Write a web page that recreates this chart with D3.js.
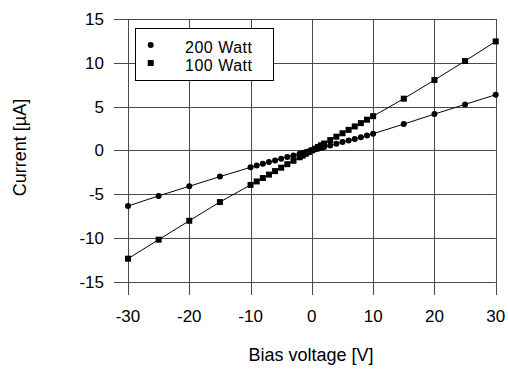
<!DOCTYPE html>
<html><head><meta charset="utf-8">
<script src="https://cdn.jsdelivr.net/npm/d3@7"></script>
<style>body{margin:0;background:#fff}svg{display:block}text{font-family:"Liberation Sans",Arial,sans-serif;fill:#000}</style>
</head><body><svg id="c" width="508" height="369"></svg>
<script>
const voltage = [-30,-25,-20,-15,-10,-9,-8,-7,-6,-5,-4,-3,-2,-1.5,-1,-0.5,0,0.5,1,1.5,2,3,4,5,6,7,8,9,10,15,20,25,30];
const current200W = [-6.36,-5.2,-4.1,-3.0,-1.94,-1.73,-1.53,-1.34,-1.15,-0.96,-0.77,-0.58,-0.39,-0.29,-0.19,-0.1,0.0,0.09,0.19,0.28,0.37,0.56,0.75,0.94,1.12,1.31,1.5,1.69,1.9,3.0,4.14,5.25,6.35];
const current100W = [-12.37,-10.2,-8.04,-5.9,-3.95,-3.55,-3.16,-2.77,-2.37,-1.98,-1.58,-1.19,-0.79,-0.6,-0.4,-0.2,0.0,0.19,0.39,0.58,0.78,1.17,1.56,1.95,2.34,2.73,3.11,3.5,3.9,5.9,8.03,10.2,12.44];
const xTicks = [-30,-20,-10,0,10,20,30];
const yTicks = [-15,-10,-5,0,5,10,15];
const seriesNames = ["200 Watt","100 Watt"];

const svg = d3.select("#c");
const x = d3.scaleLinear().domain([-30,30]).range([128,495.7]);
const y = d3.scaleLinear().domain([-15,15]).range([281.7,19]);
const gridColor = "#4a4a4a";

// horizontal gridlines (extending left as ticks)
svg.append("g").selectAll("line").data(yTicks).join("line")
  .attr("x1",114).attr("x2",x(30)).attr("y1",d=>Math.round(y(d))+0.5).attr("y2",d=>Math.round(y(d))+0.5)
  .attr("stroke",gridColor).attr("stroke-width",1);
// vertical gridlines (extending down as ticks)
svg.append("g").selectAll("line").data(xTicks).join("line")
  .attr("y1",y(15)).attr("y2",295).attr("x1",d=>Math.round(x(d))+0.5).attr("x2",d=>Math.round(x(d))+0.5)
  .attr("stroke",gridColor).attr("stroke-width",1);

// tick labels
svg.append("g").selectAll("text").data(yTicks).join("text")
  .attr("x",104).attr("y",d=>y(d)).attr("dy","0.36em").attr("text-anchor","end")
  .style("font-size","17px").text(d=>d);
svg.append("g").selectAll("text").data(xTicks).join("text")
  .attr("x",d=>x(d)).attr("y",321.5).attr("text-anchor","middle")
  .style("font-size","17px").text(d=>d);

// axis titles
svg.append("text").attr("x",311).attr("y",360.5).attr("text-anchor","middle")
  .style("font-size","18px").text("Bias voltage [V]");
svg.append("text").attr("transform","translate(25.5,147.5) rotate(-90)").attr("text-anchor","middle")
  .style("font-size","18px").text("Current [\u00b5A]");

// lines
const line = d3.line().x((d,i)=>x(voltage[i])).y(d=>y(d));
svg.append("path").attr("d",line(current200W)).attr("fill","none").attr("stroke","#000").attr("stroke-width",1);
svg.append("path").attr("d",line(current100W)).attr("fill","none").attr("stroke","#000").attr("stroke-width",1);

// markers
svg.append("g").selectAll("circle").data(current200W).join("circle")
  .attr("cx",(d,i)=>x(voltage[i])).attr("cy",d=>y(d)).attr("r",3).attr("fill","#000");
const s = 6;
svg.append("g").selectAll("rect").data(current100W).join("rect")
  .attr("x",(d,i)=>x(voltage[i])-s/2).attr("y",d=>y(d)-s/2).attr("width",s).attr("height",s).attr("fill","#000");

// legend
const lg = svg.append("g");
lg.append("rect").attr("x",135.5).attr("y",28.5).attr("width",138).attr("height",52).attr("fill","#fff").attr("stroke","#000").attr("stroke-width",1);
lg.append("circle").attr("cx",150.7).attr("cy",45).attr("r",3).attr("fill","#000");
lg.append("rect").attr("x",150.7-s/2).attr("y",63-s/2).attr("width",s).attr("height",s).attr("fill","#000");
lg.append("text").attr("x",185).attr("y",52.5).style("font-size","16px").style("letter-spacing","0.5px").text(seriesNames[0]);
lg.append("text").attr("x",185).attr("y",71).style("font-size","16px").style("letter-spacing","0.5px").text(seriesNames[1]);
</script></body></html>
